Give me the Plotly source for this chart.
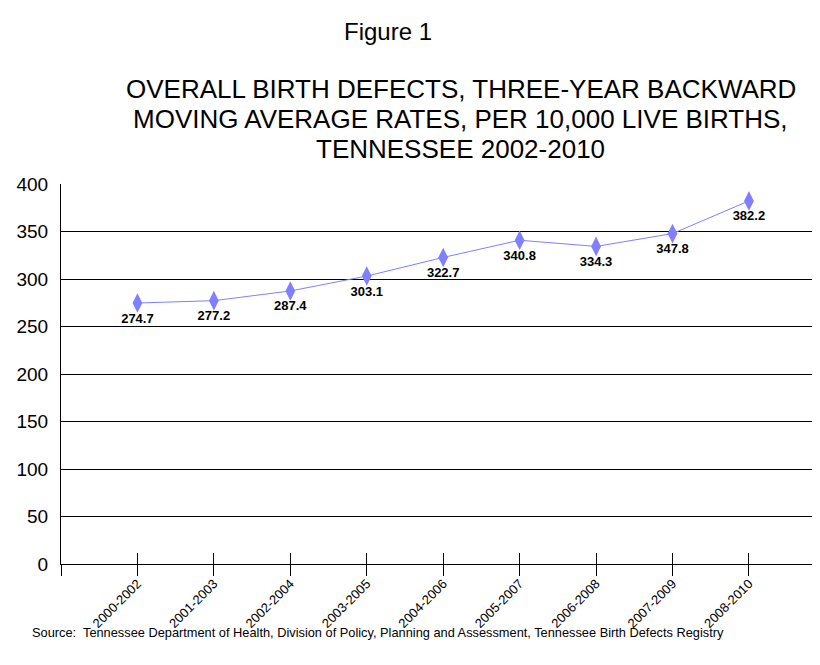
import plotly.graph_objects as go

periods = ["2000-2002", "2001-2003", "2002-2004", "2003-2005", "2004-2006",
           "2005-2007", "2006-2008", "2007-2009", "2008-2010"]
rates = [274.7, 277.2, 287.4, 303.1, 322.7, 340.8, 334.3, 347.8, 382.2]
y_ticks = [0, 50, 100, 150, 200, 250, 300, 350, 400]

# page has an 8px body margin; work in reference pixel coords
OFF = 8
W, H = 820 - OFF, 665 - OFF
L, R, T, B = 61 - OFF, 0, 184 - OFF, 109 - OFF
pw = W - L - R
ph = H - T - B

def px(x):
    return (x - OFF - L) / pw

def py(y):
    return (H - B - (y - OFF)) / ph

xs = list(range(len(periods)))
font = "Liberation Sans, Arial, sans-serif"

fig = go.Figure()
fig.add_trace(go.Scatter(
    x=xs, y=rates, mode="lines+markers+text",
    line=dict(color="#8080FF", width=1),
    marker=dict(symbol="diamond-tall", size=14, color="#8080FF"),
    text=[f"{v:.1f}" for v in rates],
    textposition="bottom center",
    textfont=dict(family=font, size=13, color="#000000", weight="bold"),
    showlegend=False, cliponaxis=False,
))
for ax in ("x2", "x3"):
    fig.add_trace(go.Scatter(x=xs, y=rates, xaxis=ax, mode="markers",
                             marker=dict(opacity=0), showlegend=False,
                             hoverinfo="skip"))

xr = [-1, 8.93]
tv = [-1] + xs
fig.update_layout(
    width=W, height=H,
    margin=dict(l=L, r=R, t=T, b=B, autoexpand=False),
    paper_bgcolor="white", plot_bgcolor="white",
    font=dict(family=font, color="#000000"),
    xaxis=dict(range=xr, tickmode="array", tickvals=tv,
               ticktext=[""] + periods, tickangle=-45,
               ticks="", ticklabelstandoff=6,
               showgrid=False, showline=True, linecolor="#000", linewidth=1,
               zeroline=False, tickfont=dict(size=13, family=font)),
    xaxis2=dict(range=xr, overlaying="x", anchor="y", side="bottom",
                tickmode="array", tickvals=tv, ticktext=[""] * 10,
                ticks="inside", ticklen=11, tickcolor="#000", tickwidth=1,
                showgrid=False, showline=False, zeroline=False),
    xaxis3=dict(range=xr, overlaying="x", anchor="y", side="bottom",
                tickmode="array", tickvals=tv, ticktext=[""] * 10,
                ticks="outside", ticklen=11, tickcolor="#000", tickwidth=1,
                showgrid=False, showline=False, zeroline=False),
    yaxis=dict(range=[0, 400], tickmode="array", tickvals=y_ticks,
               ticktext=[str(v) for v in y_ticks],
               showgrid=True, gridcolor="#000", gridwidth=1,
               showline=True, linecolor="#000", linewidth=1,
               zeroline=False, ticks="", ticklabelstandoff=8,
               tickfont=dict(size=19, family=font)),
    annotations=[
        dict(text="Figure 1", x=px(388), y=py(31), xref="paper", yref="paper",
             showarrow=False, xanchor="center", yanchor="middle",
             font=dict(size=24, family=font)),
        dict(text="OVERALL BIRTH DEFECTS, THREE-YEAR BACKWARD",
             x=px(461), y=py(89), xref="paper", yref="paper",
             showarrow=False, xanchor="center", yanchor="middle",
             font=dict(size=26, family=font)),
        dict(text="MOVING AVERAGE RATES, PER 10,000 LIVE BIRTHS,",
             x=px(460), y=py(119), xref="paper", yref="paper",
             showarrow=False, xanchor="center", yanchor="middle",
             font=dict(size=26, family=font)),
        dict(text="TENNESSEE 2002-2010",
             x=px(460), y=py(149), xref="paper", yref="paper",
             showarrow=False, xanchor="center", yanchor="middle",
             font=dict(size=26, family=font)),
        dict(text="Source:  Tennessee Department of Health, Division of Policy, Planning and Assessment, Tennessee Birth Defects Registry",
             x=px(30), y=py(632), xref="paper", yref="paper",
             showarrow=False, xanchor="left", yanchor="middle",
             font=dict(size=12.8, family=font)),
    ],
)

fig.write_html("out.html")
